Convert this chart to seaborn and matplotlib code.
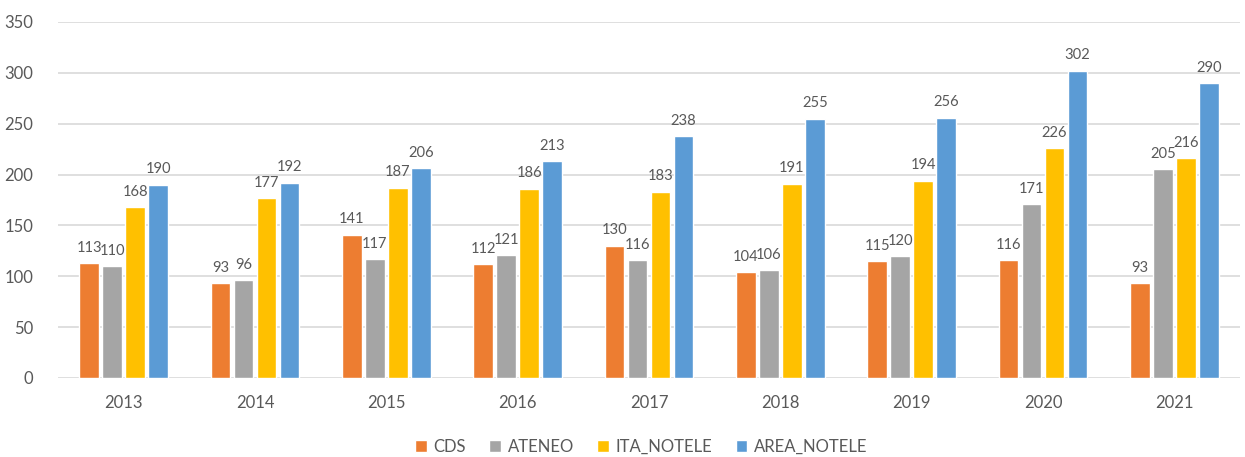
import matplotlib
matplotlib.use("Agg")
import matplotlib.pyplot as plt
import seaborn as sns
import pandas as pd
from matplotlib.patches import Patch

years = ["2013", "2014", "2015", "2016", "2017", "2018", "2019", "2020", "2021"]
series = ["CDS", "ATENEO", "ITA_NOTELE", "AREA_NOTELE"]
cds = [113, 93, 141, 112, 130, 104, 115, 116, 93]
ateneo = [110, 96, 117, 121, 116, 106, 120, 171, 205]
ita_notele = [168, 177, 187, 186, 183, 191, 194, 226, 216]
area_notele = [190, 192, 206, 213, 238, 255, 256, 302, 290]
colors = ["#ED7D31", "#A5A5A5", "#FFC000", "#5B9BD5"]

values = [cds, ateneo, ita_notele, area_notele]
rows = []
for s, vals in zip(series, values):
    for y, v in zip(years, vals):
        rows.append({"year": y, "series": s, "value": v})
df = pd.DataFrame(rows)

sns.set_theme(style="white")
plt.rcParams['font.family'] = ['Lato', 'DejaVu Sans']
text_color = "#595959"

fig = plt.figure(figsize=(12.45, 4.57), dpi=100)
ax = fig.add_axes([0.0466, 0.173, 0.9494, 0.779])

sns.barplot(data=df, x="year", y="value", hue="series", order=years,
            hue_order=series, palette=colors, width=0.7, gap=0.15,
            ax=ax, legend=False, saturation=1, errorbar=None)

for cont in ax.containers:
    ax.bar_label(cont, padding=6, fontsize=10.6, color=text_color)

ax.set_ylim(0, 350)
ax.set_yticks(range(0, 351, 50))
ax.set_xlim(-0.5, len(years) - 0.5)
ax.yaxis.grid(True, color="#D9D9D9", linewidth=1.2)
ax.set_axisbelow(True)
for sp in ax.spines.values():
    sp.set_visible(False)
ax.set_xlabel("")
ax.set_ylabel("")
ax.tick_params(axis="both", length=0, colors=text_color, labelsize=12)
ax.tick_params(axis="x", pad=12)
ax.tick_params(axis="y", pad=18)

handles = [Patch(facecolor=c, label=s) for c, s in zip(colors, series)]
fig.legend(handles=handles, loc="center", bbox_to_anchor=(0.515, 0.022),
           ncol=4, frameon=False, fontsize=12, handlelength=0.7,
           handleheight=0.7, handletextpad=0.4, columnspacing=1.4,
           labelcolor=text_color)

fig.savefig("out.png", dpi=100)
